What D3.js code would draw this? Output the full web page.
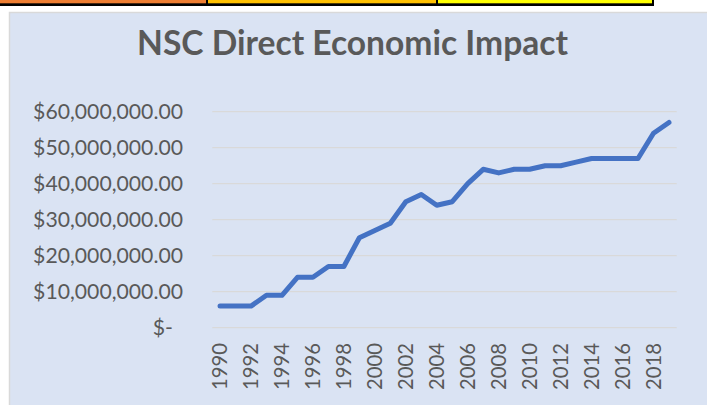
<!DOCTYPE html>
<html>
<head>
<meta charset="utf-8">
<script src="https://cdn.jsdelivr.net/npm/d3@7/dist/d3.min.js"></script>
<style>
  html, body { margin: 0; padding: 0; background: #ffffff; }
  svg { display: block; }
  text { font-family: Lato, "Open Sans", "Noto Sans", sans-serif; }
</style>
</head>
<body>
<svg id="chart" width="707" height="405"></svg>
<script>
// ---- data ----
const years = [1990,1991,1992,1993,1994,1995,1996,1997,1998,1999,
               2000,2001,2002,2003,2004,2005,2006,2007,2008,2009,
               2010,2011,2012,2013,2014,2015,2016,2017,2018,2019];
const impact = [6e6,6e6,6e6,9e6,9e6,14e6,14e6,17e6,17e6,25e6,
                27e6,29e6,35e6,37e6,34e6,35e6,40e6,44e6,43e6,44e6,
                44e6,45e6,45e6,46e6,47e6,47e6,47e6,47e6,54e6,57e6];
const yTickValues = [0,10e6,20e6,30e6,40e6,50e6,60e6];
const yTickLabels = ["$-","$10,000,000.00","$20,000,000.00","$30,000,000.00",
                     "$40,000,000.00","$50,000,000.00","$60,000,000.00"];
const xTickLabels = [1990,1992,1994,1996,1998,2000,2002,2004,2006,2008,
                     2010,2012,2014,2016,2018];
const title = "NSC Direct Economic Impact";

// ---- drawing ----
const svg = d3.select("#chart");

// spreadsheet cells strip on top
svg.append("rect").attr("x",0).attr("y",0).attr("width",654).attr("height",6).attr("fill","#000");
svg.append("rect").attr("x",0).attr("y",0).attr("width",206).attr("height",3.3).attr("fill","#ED7D31");
svg.append("rect").attr("x",208).attr("y",0).attr("width",228).attr("height",3.3).attr("fill","#FFC000");
svg.append("rect").attr("x",438).attr("y",0).attr("width",214).attr("height",3.3).attr("fill","#FFFF00");

// chart area
svg.append("rect").attr("x",9.5).attr("y",12.5).attr("width",710).attr("height",410)
  .attr("fill","#DAE3F3").attr("stroke","#D9D9D9").attr("stroke-width",1.5);

const x = d3.scaleBand().domain(years).range([212.3, 676.7]).padding(0);
const y = d3.scaleLinear().domain([0, 60e6]).range([327.7, 111.7]);

// fit a font size so that sample text matches a target width
function fitSize(sample, targetW, weight) {
  const t = svg.append("text").attr("font-size",100).attr("font-weight",weight||"normal").text(sample);
  const w = t.node().getComputedTextLength();
  t.remove();
  return 100 * targetW / w;
}

// gridlines
svg.append("g")
  .selectAll("line").data(yTickValues).join("line")
  .attr("x1",212.3).attr("x2",676.7)
  .attr("y1",d=>y(d)).attr("y2",d=>y(d))
  .attr("stroke","#D9D9D9").attr("stroke-width",1.2);

// y axis
const yLabelSize = fitSize("$60,000,000.00", 150);
const yAxis = d3.axisLeft(y).tickValues(yTickValues)
  .tickFormat((d,i)=>yTickLabels[i]).tickSize(0).tickPadding(0);
const gy = svg.append("g").attr("transform","translate(183,0)").call(yAxis);
gy.select(".domain").remove();
gy.selectAll("text").attr("font-size",yLabelSize).attr("fill","#595959")
  .attr("font-family","Lato, 'Open Sans', sans-serif")
  .attr("dx",(d,i)=> yTickLabels[i]==="$-" ? -10 : 0);

// x axis
const xLabelSize = fitSize("1990", 47);
const xAxis = d3.axisBottom(x).tickValues(xTickLabels).tickSize(0).tickPadding(0);
const gx = svg.append("g").attr("transform","translate(0,343)").call(xAxis);
gx.select(".domain").remove();
gx.selectAll("text")
  .attr("font-size",xLabelSize).attr("fill","#595959")
  .attr("font-family","Lato, 'Open Sans', sans-serif")
  .attr("transform","rotate(-90)")
  .attr("text-anchor","end")
  .attr("x",0).attr("y",0).attr("dy","0.35em");

// line
const line = d3.line().x((d,i)=>x(years[i]) + x.bandwidth()/2).y(d=>y(d));
svg.append("path").datum(impact).attr("d",line)
  .attr("fill","none").attr("stroke","#4472C4").attr("stroke-width",5)
  .attr("stroke-linejoin","round").attr("stroke-linecap","round");

// title
const titleSize = fitSize(title, 431, "bold");
svg.append("text").attr("x",352.5).attr("y",55).attr("text-anchor","middle")
  .attr("font-size",titleSize).attr("font-weight","bold").attr("fill","#595959")
  .text(title);
</script>
</body>
</html>
